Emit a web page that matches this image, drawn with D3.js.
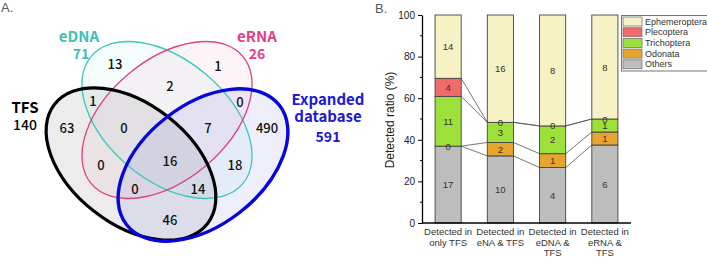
<!DOCTYPE html>
<html>
<head>
<meta charset="utf-8">
<script src="https://cdn.jsdelivr.net/npm/d3@7"></script>
<style>
  html, body { margin: 0; padding: 0; background: #fff; }
  svg { display: block; }
</style>
</head>
<body>
<svg id="fig" width="707" height="257"></svg>
<script>
// ---- panel A: Venn data ----
const setNames = ['TFS', 'eDNA', 'eRNA', 'Expanded database'];
const setTotals = [140, 71, 26, 591];
// region counts
const regionCounts = [13, 2, 1, 1, 0, 63, 0, 7, 490, 0, 16, 18, 0, 14, 46];

// ---- panel B: stacked ratio data ----
const categories = ['Detected in only TFS', 'Detected in eNA & TFS', 'Detected in eDNA & TFS', 'Detected in eRNA & TFS'];
const categoryLines = [['Detected in', 'only TFS'], ['Detected in', 'eNA & TFS'], ['Detected in', 'eDNA &', 'TFS'], ['Detected in', 'eRNA &', 'TFS']];
const orders = ['Others', 'Odonata', 'Trichoptera', 'Plecoptera', 'Ephemeroptera'];
const others = [17, 10, 4, 6];
const odonata = [0, 2, 1, 1];
const trichoptera = [11, 3, 2, 1];
const plecoptera = [4, 0, 0, 0];
const ephemeroptera = [14, 16, 8, 8];
const yTicks = [0, 20, 40, 60, 80, 100];

(function () {
  const svg = d3.select('#fig');
  const vennFont = '"Noto Sans CJK JP", "Noto Sans", sans-serif';
  const arial = '"Liberation Sans", Arial, sans-serif';

  // ---------- A ----------
  svg.append('text').attr('x', 1).attr('y', 12).attr('font-family', arial)
    .attr('font-size', 13).attr('fill', '#555').text('A.');

  // ellipse layout (geometry only)
  const ellipses = [
    { cx: 131, cy: 164, rx: 97, ry: 60, rot: 38, stroke: '#000', sw: 3.2, fill: 'rgba(0,0,0,0.075)' },
    { cx: 167, cy: 120, rx: 99, ry: 60, rot: 40, stroke: '#3cc6be', sw: 1.3, fill: 'rgba(60,198,190,0.05)' },
    { cx: 167, cy: 120, rx: 99, ry: 60, rot: -40, stroke: '#e0407f', sw: 1.3, fill: 'rgba(224,64,127,0.06)' },
    { cx: 203, cy: 165, rx: 97, ry: 60, rot: -38, stroke: '#0505dc', sw: 3.4, fill: 'rgba(20,20,210,0.065)' }
  ];
  const eg = svg.append('g');
  eg.selectAll('ellipse.f').data(ellipses).join('ellipse').attr('class', 'f')
    .attr('cx', d => d.cx).attr('cy', d => d.cy).attr('rx', d => d.rx).attr('ry', d => d.ry)
    .attr('transform', d => `rotate(${d.rot},${d.cx},${d.cy})`)
    .attr('fill', d => d.fill).attr('stroke', 'none');
  const strokeOrder = [1, 2, 0, 3];
  eg.selectAll('ellipse.s').data(strokeOrder.map(i => ellipses[i])).join('ellipse').attr('class', 's')
    .attr('cx', d => d.cx).attr('cy', d => d.cy).attr('rx', d => d.rx).attr('ry', d => d.ry)
    .attr('transform', d => `rotate(${d.rot},${d.cx},${d.cy})`)
    .attr('fill', 'none').attr('stroke', d => d.stroke).attr('stroke-width', d => d.sw);

  // label positions for each region (layout)
  const regionPos = [[115, 63], [170, 85], [218, 65], [93, 100], [240, 101], [67, 127], [124, 127],
    [208, 127], [267, 127], [101, 164], [170, 160], [235, 164], [135, 188], [198, 188], [170, 219]];
  svg.append('g').selectAll('text').data(regionCounts).join('text')
    .attr('x', (d, i) => regionPos[i][0]).attr('y', (d, i) => regionPos[i][1])
    .attr('text-anchor', 'middle').attr('dominant-baseline', 'central')
    .attr('font-family', vennFont).attr('font-size', 13).attr('font-weight', 500)
    .attr('fill', '#111').text(d => d);

  const setLabel = [
    { lines: [setNames[0]], x: 25, y: 106, color: '#000' },
    { lines: [setNames[1]], x: 79, y: 35, color: '#3cc0b9' },
    { lines: [setNames[2]], x: 257, y: 35, color: '#e0408a' },
    { lines: ['Expanded', 'database'], x: 328, y: 98, color: '#1a1ad2' }
  ];
  setLabel.forEach((s, i) => {
    s.lines.forEach((ln, j) => {
      svg.append('text').attr('x', s.x).attr('y', s.y + j * 17)
        .attr('text-anchor', 'middle').attr('dominant-baseline', 'central')
        .attr('font-family', vennFont).attr('font-size', 15).attr('font-weight', 700)
        .attr('fill', s.color).text(ln);
    });
    const ty = s.y + (s.lines.length - 1) * 17 + (i === 3 ? 21 : 18);
    svg.append('text').attr('x', s.x + (i === 1 ? 2 : 0)).attr('y', ty)
      .attr('text-anchor', 'middle').attr('dominant-baseline', 'central')
      .attr('font-family', vennFont).attr('font-size', 14).attr('font-weight', i === 0 ? 500 : 700)
      .attr('fill', s.color).text(setTotals[i]);
  });

  // ---------- B ----------
  svg.append('text').attr('x', 375).attr('y', 13).attr('font-family', arial)
    .attr('font-size', 13).attr('fill', '#555').text('B.');

  const palette = {
    Ephemeroptera: '#f7f2c4',
    Plecoptera: '#f26a6a',
    Trichoptera: '#9ee03a',
    Odonata: '#e6a52e',
    Others: '#bdbdbd'
  };

  const rows = categories.map((c, i) => ({
    cat: c, Others: others[i], Odonata: odonata[i], Trichoptera: trichoptera[i],
    Plecoptera: plecoptera[i], Ephemeroptera: ephemeroptera[i]
  }));
  const series = d3.stack().keys(orders).offset(d3.stackOffsetExpand)(rows);

  const left = 422, right = 631, top = 15, bottom = 223;
  const x = d3.scaleBand().domain(categories).range([left, right]).paddingInner(0.5).paddingOuter(0.25);
  const y = d3.scaleLinear().domain([0, 100]).range([bottom, top]);

  // connecting lines between boundaries
  const links = svg.append('g');
  orders.slice(0, 4).forEach((k, si) => {
    for (let i = 0; i < categories.length - 1; i++) {
      links.append('line')
        .attr('x1', x(categories[i]) + x.bandwidth()).attr('y1', y(series[si][i][1] * 100))
        .attr('x2', x(categories[i + 1])).attr('y2', y(series[si][i + 1][1] * 100))
        .attr('stroke', '#555').attr('stroke-width', 0.8);
    }
  });

  const bars = svg.append('g');
  series.forEach(s => {
    bars.selectAll(null).data(s).join('rect')
      .attr('x', d => x(d.data.cat)).attr('width', x.bandwidth())
      .attr('y', d => y(d[1] * 100)).attr('height', d => y(d[0] * 100) - y(d[1] * 100))
      .attr('fill', palette[s.key]).attr('stroke', '#444').attr('stroke-width', 0.9);
  });
  series.forEach(s => {
    bars.selectAll(null).data(s).join('text')
      .attr('x', d => x(d.data.cat) + x.bandwidth() / 2)
      .attr('y', d => y((d[0] + d[1]) * 50))
      .attr('text-anchor', 'middle').attr('dominant-baseline', 'central')
      .attr('font-family', arial).attr('font-size', 9.5).attr('fill', '#333')
      .text(d => d.data[s.key]);
  });

  // axes
  const yAxis = svg.append('g').attr('transform', `translate(${left},0)`)
    .call(d3.axisLeft(y).tickValues(yTicks).tickSize(4).tickSizeOuter(0));
  yAxis.append('g').selectAll('line').data([10, 30, 50, 70, 90]).join('line')
    .attr('x1', 0).attr('x2', -2).attr('y1', d => y(d)).attr('y2', d => y(d)).attr('stroke', '#000');
  yAxis.selectAll('.tick text').attr('font-family', arial).attr('font-size', 10).attr('fill', '#222');
  yAxis.select('.domain').attr('stroke-width', 1.3);

  svg.append('line').attr('x1', left).attr('x2', right).attr('y1', bottom).attr('y2', bottom)
    .attr('stroke', '#000').attr('stroke-width', 1.3);

  svg.append('text').attr('transform', `translate(390,${(top + bottom) / 2 + 1}) rotate(-90)`)
    .attr('text-anchor', 'middle').attr('dominant-baseline', 'central')
    .attr('font-family', arial).attr('font-size', 12).attr('fill', '#222').text('Detected ratio (%)');

  categories.forEach((c, i) => {
    categoryLines[i].forEach((ln, j) => {
      svg.append('text').attr('x', x(c) + x.bandwidth() / 2).attr('y', 231.5 + j * 10.6)
        .attr('text-anchor', 'middle').attr('dominant-baseline', 'central')
        .attr('font-family', arial).attr('font-size', 9.5).attr('fill', '#333').text(ln);
    });
  });

  // legend
  const legendKeys = orders.slice().reverse();
  const lg = svg.append('g');
  lg.append('rect').attr('x', 621.5).attr('y', 15.5).attr('width', 86).attr('height', 55.5)
    .attr('fill', '#fff').attr('stroke', '#777').attr('stroke-width', 1);
  legendKeys.forEach((k, i) => {
    const cy = 21.5 + i * 10.7;
    lg.append('rect').attr('x', 623).attr('y', cy - 4.5).attr('width', 19).attr('height', 9)
      .attr('fill', palette[k]).attr('stroke', '#777').attr('stroke-width', 0.8);
    lg.append('text').attr('x', 645).attr('y', cy).attr('dominant-baseline', 'central')
      .attr('font-family', arial).attr('font-size', 9).attr('fill', '#333').text(k);
  });
})();
</script>
</body>
</html>
